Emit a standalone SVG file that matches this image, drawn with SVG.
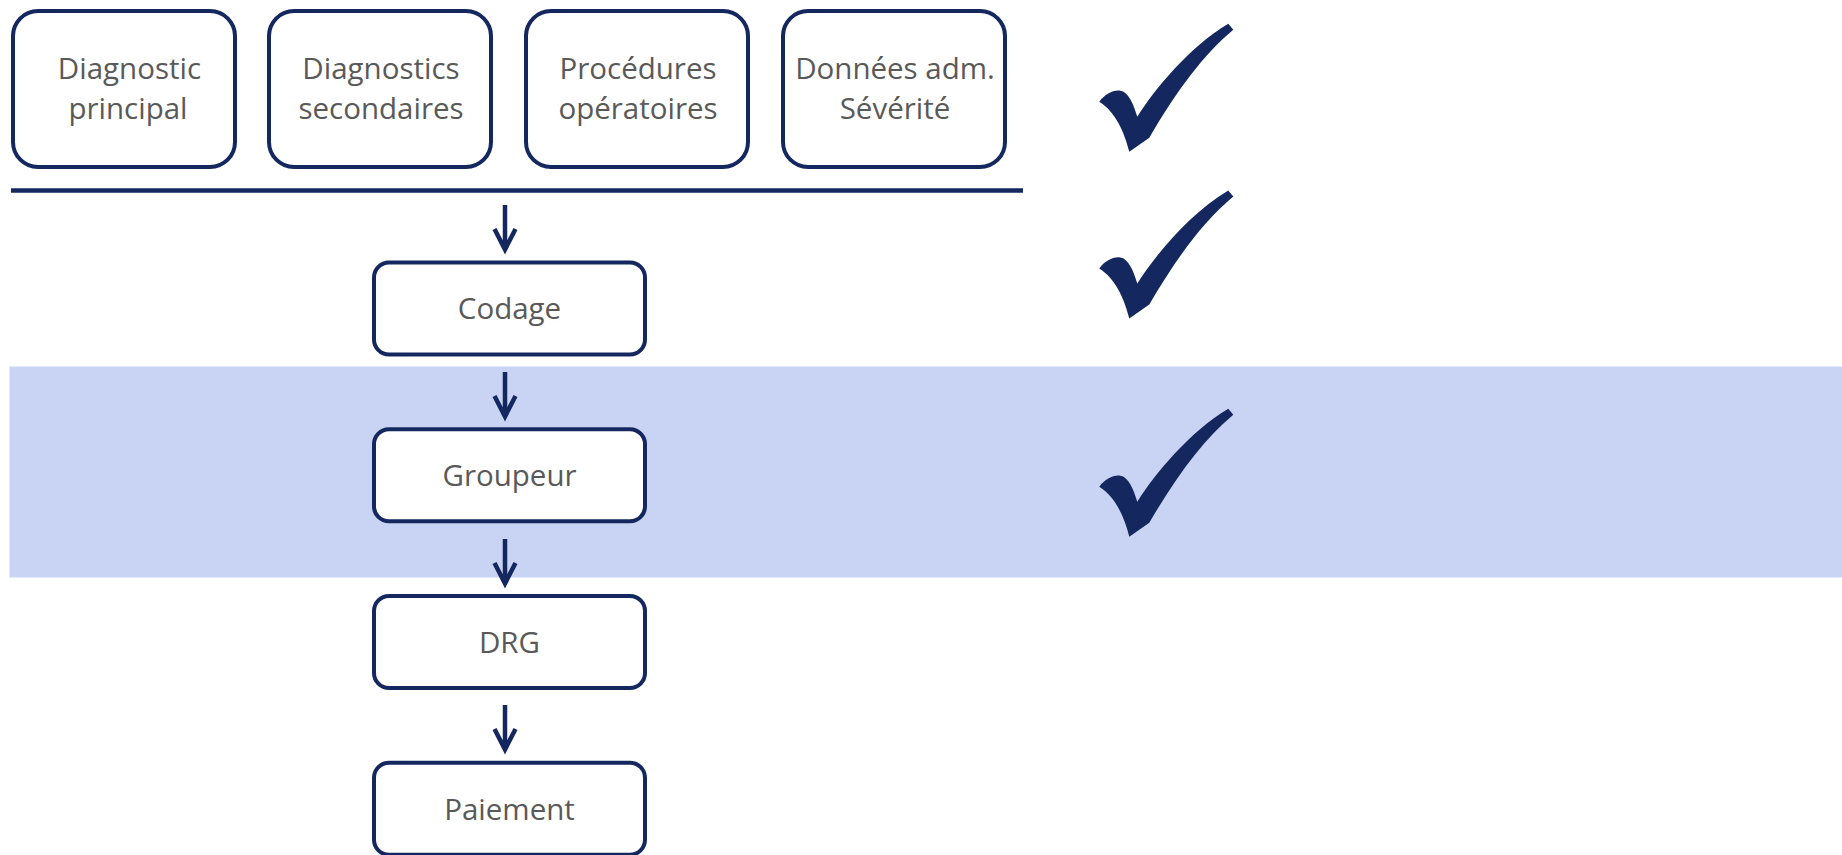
<svg xmlns="http://www.w3.org/2000/svg" width="1842" height="855" viewBox="0 0 1842 855">
<style>
.box{fill:#ffffff;stroke:#14285F;stroke-width:4}
.lbl{font-family:"Open Sans","Noto Sans",sans-serif;font-size:29.5px;fill:#595959;text-anchor:middle}
.con{fill:none;stroke:#14285F;stroke-width:4.5}
.chk{fill:#14285F}
</style>
<defs>
<path id="check" d="M0,0 C6,-8 14,-12 21,-11 C29,-10 34,2 38,15 C55,-12 90,-55 129,-78 L134,-72 C105,-48 78,-12 50,36 L30,50 C25,30 16,10 0,0 Z"/>
</defs>
<rect x="0" y="0" width="1842" height="855" fill="#ffffff"/>
<rect id="band" x="9.5" y="366.5" width="1832.5" height="211" fill="#C9D3F3"/>

<g id="n-diag-principal">
<rect class="box" x="13" y="11" width="222" height="156" rx="25"/>
<text class="lbl" x="129.5" y="79">Diagnostic</text>
<text class="lbl" x="128" y="119">principal</text>
</g>
<g id="n-diag-secondaires">
<rect class="box" x="269" y="11" width="222" height="156" rx="25"/>
<text class="lbl" x="381" y="79">Diagnostics</text>
<text class="lbl" x="381" y="119">secondaires</text>
</g>
<g id="n-procedures">
<rect class="box" x="526" y="11" width="222" height="156" rx="25"/>
<text class="lbl" x="638" y="79">Procédures</text>
<text class="lbl" x="638" y="119">opératoires</text>
</g>
<g id="n-donnees">
<rect class="box" x="783" y="11" width="222" height="156" rx="25"/>
<text class="lbl" x="895" y="79">Données adm.</text>
<text class="lbl" x="895" y="119">Sévérité</text>
</g>

<g id="n-codage">
<rect class="box" x="374" y="262.5" width="271" height="92" rx="15"/>
<text class="lbl" x="509.5" y="319">Codage</text>
</g>
<g id="n-groupeur">
<rect class="box" x="374" y="429.3" width="271" height="92" rx="15"/>
<text class="lbl" x="509.5" y="486">Groupeur</text>
</g>
<g id="n-drg">
<rect class="box" x="374" y="596" width="271" height="92" rx="15"/>
<text class="lbl" x="509.5" y="653">DRG</text>
</g>
<g id="n-paiement">
<rect class="box" x="374" y="762.8" width="271" height="92" rx="15"/>
<text class="lbl" x="509.5" y="820">Paiement</text>
</g>

<g id="connectors">
<line x1="11" y1="190.5" x2="1023" y2="190.5" stroke="#14285F" stroke-width="4.5"/>
<path class="con" d="M505,205 V248 M494.5,229 L505,249.5 L515.5,229"/>
<path class="con" d="M505,372 V415 M494.5,396 L505,416.5 L515.5,396"/>
<path class="con" d="M505,539 V582 M494.5,563 L505,583.5 L515.5,563"/>
<path class="con" d="M505,705 V748 M494.5,729 L505,749.5 L515.5,729"/>
</g>

<g id="checks">
<use href="#check" class="chk" transform="translate(1099.3,101.7)"/>
<use href="#check" class="chk" transform="translate(1099.3,268.5)"/>
<use href="#check" class="chk" transform="translate(1099.3,486.7)"/>
</g>
</svg>
